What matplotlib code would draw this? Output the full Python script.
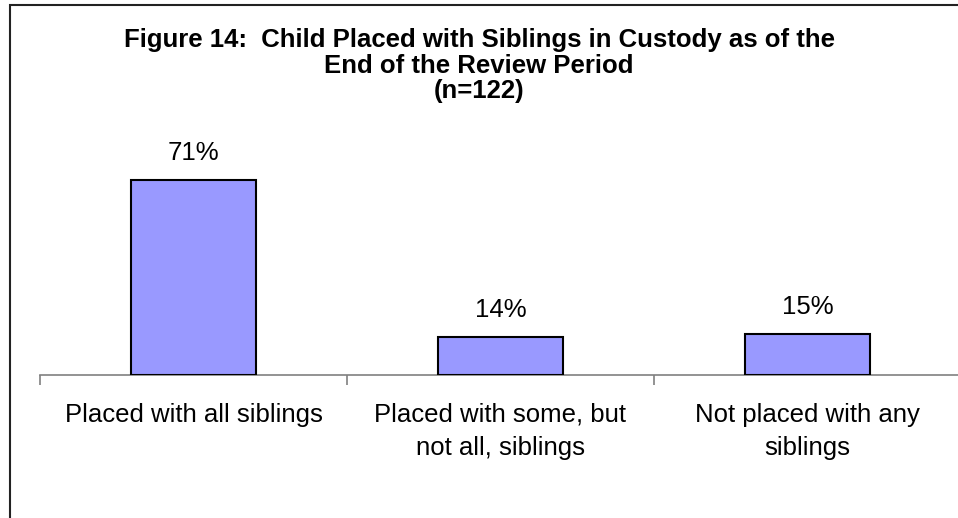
import numpy as np
import matplotlib.pyplot as plt
import matplotlib.patches as mpatches
from matplotlib.ticker import FixedLocator, NullFormatter

categories = ['Placed with all siblings',
              'Placed with some, but\nnot all, siblings',
              'Not placed with any\nsiblings']
values = [71, 14, 15]
title = ('Figure 14:  Child Placed with Siblings in Custody as of the\n'
         'End of the Review Period\n(n=122)')

plt.rcParams['font.family'] = ['Liberation Sans', 'DejaVu Sans']

W, H = 958, 518
fig = plt.figure(figsize=(W / 100, H / 100), dpi=100)

# plot area in pixel terms
x0, x1 = 40, 961
y_base, y_top = 375, 155
ax = fig.add_axes([x0 / W, 1 - y_base / H, (x1 - x0) / W, (y_base - y_top) / H])

x = np.arange(len(categories))
ax.bar(x, values, width=0.404, color='#9999FF', edgecolor='black', linewidth=1.5, zorder=3)
for xi, v in zip(x, values):
    ax.annotate(f'{v}%', (xi, v), xytext=(0, 14), textcoords='offset points',
                ha='center', va='baseline', fontsize=18.5)

ax.set_xlim(-0.5, len(categories) - 0.5)
ax.set_ylim(0, 80)
for side in ['top', 'right', 'left']:
    ax.spines[side].set_visible(False)
ax.spines['bottom'].set_color('#808080')
ax.spines['bottom'].set_linewidth(1.2)
ax.set_yticks([])

ax.set_xticks(x)
ax.set_xticklabels(categories, fontsize=18.5, linespacing=1.5)
ax.tick_params(axis='x', which='major', length=0, pad=20)
ax.xaxis.set_minor_locator(FixedLocator(np.arange(len(categories) + 1) - 0.5))
ax.xaxis.set_minor_formatter(NullFormatter())
ax.tick_params(axis='x', which='minor', length=7, width=1.2, color='#808080', direction='out')

fig.text(0.5, 1 - 28 / H, title, ha='center', va='top', fontsize=18.5,
         fontweight='bold', linespacing=1.08)

# outer frame around the chart
frame = mpatches.Rectangle((10 / W, -0.1), 1.2, 1 - 5 / H + 0.1, transform=fig.transFigure,
                           fill=False, edgecolor='#222222', linewidth=1.5)
fig.patches.append(frame)

fig.savefig('out.png', dpi=100)
